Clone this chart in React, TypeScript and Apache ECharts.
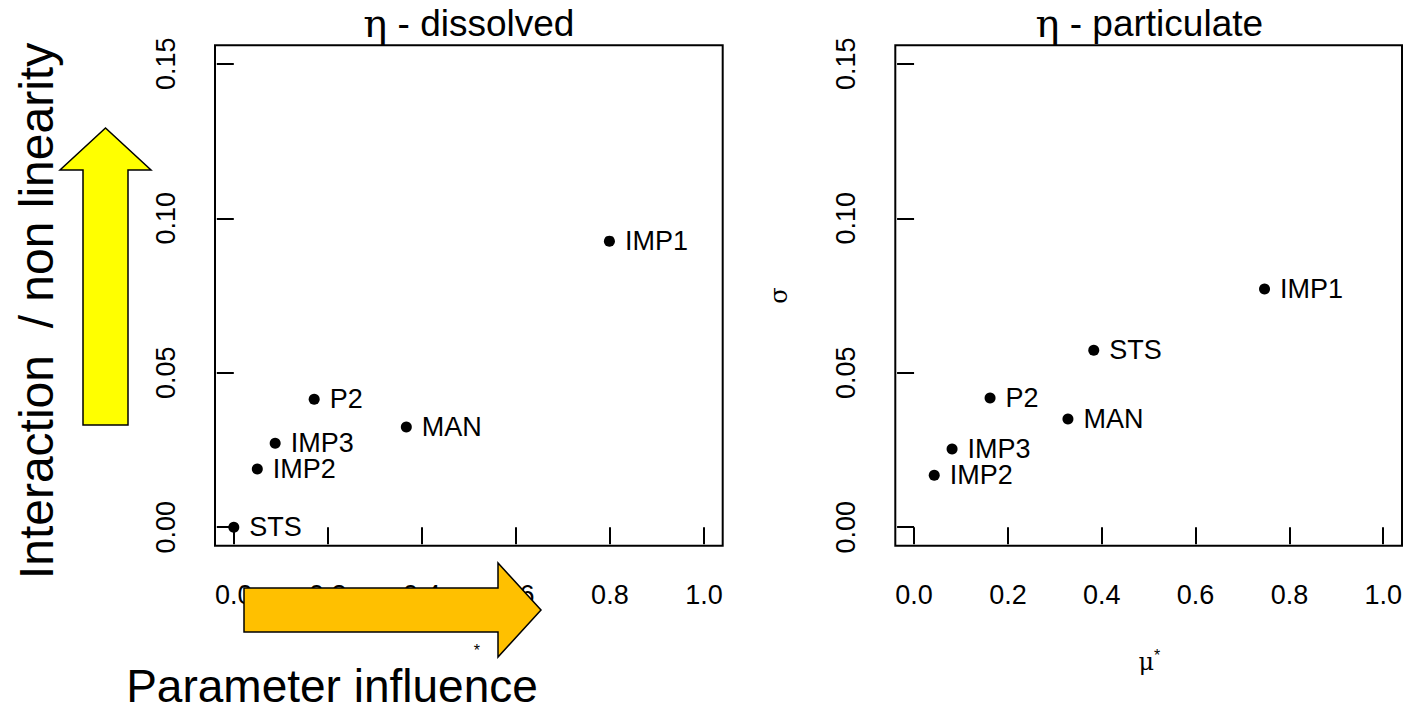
import React, { useEffect, useRef } from 'react';
import * as echarts from 'echarts';

const dissolvedNames = ['STS', 'IMP2', 'IMP3', 'P2', 'MAN', 'IMP1'];
const dissolvedMu = [0.0, 0.050, 0.088, 0.171, 0.367, 0.799];
const dissolvedSigma = [0.0, 0.0188, 0.0272, 0.0414, 0.0324, 0.0926];

const particulateNames = ['IMP2', 'IMP3', 'P2', 'MAN', 'STS', 'IMP1'];
const particulateMu = [0.043, 0.081, 0.162, 0.328, 0.383, 0.747];
const particulateSigma = [0.0168, 0.0253, 0.0418, 0.035, 0.0573, 0.0771];

const xTicks = [0, 0.2, 0.4, 0.6, 0.8, 1.0];
const yTicks = [0, 0.05, 0.1, 0.15];
const panelTitles = ['dissolved', 'particulate'];

const FONT = '"Liberation Sans", Arial, Helvetica, sans-serif';
const SERIF = '"DejaVu Serif", "Liberation Serif", serif';

export default function App() {
  const ref = useRef<HTMLDivElement>(null);

  useEffect(() => {
    if (!ref.current) return;
    const chart = echarts.init(ref.current, undefined, { renderer: 'svg' });

    const grids = [
      { left: 215, top: 45.3, width: 507.7, height: 500.4 },
      { left: 895.3, top: 45.3, width: 508, height: 500.4 },
    ];

    const xAxes = grids.map((_, i) => ({
      type: 'value',
      gridIndex: i,
      min: -0.04,
      max: 1.04,
      axisLine: { show: false },
      splitLine: { show: false },
      axisTick: { show: true, customValues: xTicks, length: 17, lineStyle: { color: '#000', width: 2 } },
      axisLabel: {
        customValues: xTicks,
        formatter: (v: number) => v.toFixed(1),
        fontSize: 27,
        color: '#000',
        fontFamily: FONT,
        margin: 36,
      },
    }));

    const yAxes = grids.map((_, i) => ({
      type: 'value',
      gridIndex: i,
      min: -0.006,
      max: 0.156,
      axisLine: { show: false },
      splitLine: { show: false },
      axisTick: { show: true, customValues: yTicks, length: 17, lineStyle: { color: '#000', width: 2 } },
      axisLabel: {
        customValues: yTicks,
        formatter: (v: number) => v.toFixed(2),
        fontSize: 27,
        color: '#000',
        fontFamily: FONT,
        rotate: 90,
        margin: 36,
      },
    }));

    const mkSeries = (names: string[], mu: number[], sigma: number[], idx: number) => ({
      type: 'scatter',
      xAxisIndex: idx,
      yAxisIndex: idx,
      symbolSize: 11,
      itemStyle: { color: '#000', opacity: 1 },
      label: {
        show: true,
        position: 'right',
        distance: 10,
        formatter: '{b}',
        fontSize: 27,
        color: '#000',
        fontFamily: FONT,
      },
      data: names.map((n, i) => ({ name: n, value: [mu[i], sigma[i]] })),
    });

    const centers = grids.map((g) => g.left + g.width / 2);

    const graphics: any[] = [];
    centers.forEach((cx, i) => {
      graphics.push({
        type: 'text',
        x: cx,
        y: 23,
        z: 5,
        style: {
          text: `{e|η}{t| - ${panelTitles[i]}}`,
          align: 'center',
          verticalAlign: 'middle',
          fill: '#000',
          rich: {
            e: { fontFamily: SERIF, fontSize: 40, fill: '#000' },
            t: { fontFamily: FONT, fontSize: 37, fill: '#000' },
          },
        },
      });
      // y axis name sigma
      graphics.push({
        type: 'text',
        x: grids[i].left - 116,
        y: grids[i].top + grids[i].height / 2,
        rotation: Math.PI / 2,
        z: 3,
        style: {
          text: 'σ',
          align: 'center',
          verticalAlign: 'middle',
          fontFamily: SERIF,
          fontSize: 24,
          fill: '#000',
        },
      });
    });
    // x axis name on the right panel: mu*
    graphics.push({
      type: 'text',
      x: centers[1],
      y: 662,
      z: 3,
      style: {
        text: '{m|μ}{s|*}',
        align: 'center',
        verticalAlign: 'middle',
        rich: {
          m: { fontFamily: SERIF, fontSize: 24, fill: '#000' },
          s: { fontFamily: FONT, fontSize: 16, fill: '#000', verticalAlign: 'top', padding: [0, 0, 14, 0] },
        },
      },
    });
    // on the left panel only the star of mu* remains visible
    graphics.push({
      type: 'text',
      x: centers[0] + 8,
      y: 650,
      z: 3,
      style: {
        text: '*',
        align: 'center',
        verticalAlign: 'middle',
        fontFamily: FONT,
        fontSize: 16,
        fill: '#000',
      },
    });

    // Yellow up arrow
    graphics.push({
      type: 'polygon',
      z: 20,
      shape: {
        points: [
          [83, 425], [128, 425], [128, 170], [151, 170], [105.5, 128], [60, 170], [83, 170],
        ],
      },
      style: { fill: '#FFFF00', stroke: '#000', lineWidth: 1.5 },
    });
    // Orange right arrow
    graphics.push({
      type: 'polygon',
      z: 20,
      shape: {
        points: [
          [244, 588], [498, 588], [498, 563], [541, 610], [498, 657], [498, 632], [244, 632],
        ],
      },
      style: { fill: '#FFC000', stroke: '#000', lineWidth: 1.5 },
    });
    // Annotations
    graphics.push({
      type: 'text',
      x: 36,
      y: 311,
      rotation: Math.PI / 2,
      z: 15,
      style: {
        text: 'Interaction  / non linearity',
        align: 'center',
        verticalAlign: 'middle',
        fontFamily: FONT,
        fontSize: 48,
        fill: '#000',
      },
    });
    graphics.push({
      type: 'text',
      x: 332,
      y: 686,
      z: 15,
      style: {
        text: 'Parameter influence',
        align: 'center',
        verticalAlign: 'middle',
        fontFamily: FONT,
        fontSize: 46,
        fill: '#000',
      },
    });

    chart.setOption({
      animation: false,
      backgroundColor: '#fff',
      grid: grids.map((g) => ({
        ...g,
        show: true,
        borderColor: '#000',
        borderWidth: 2,
        backgroundColor: 'transparent',
        containLabel: false,
      })),
      xAxis: xAxes,
      yAxis: yAxes,
      series: [
        mkSeries(dissolvedNames, dissolvedMu, dissolvedSigma, 0),
        mkSeries(particulateNames, particulateMu, particulateSigma, 1),
      ],
      graphic: graphics,
    });

    return () => chart.dispose();
  }, []);

  return (
    <div
      ref={ref}
      style={{ position: 'fixed', left: 0, top: 0, width: 1405, height: 711, background: '#fff' }}
    />
  );
}
